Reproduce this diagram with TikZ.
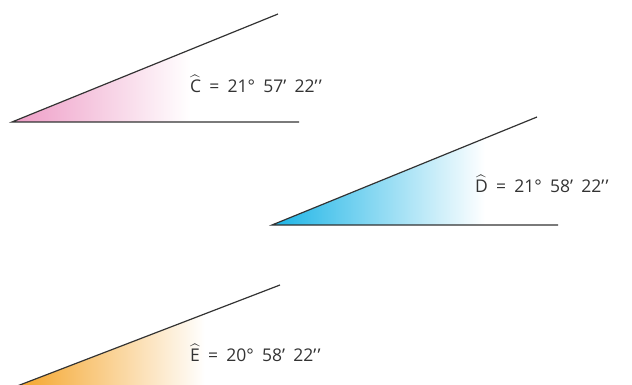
\documentclass[tikz,border=0pt]{standalone}
\usepackage{amsmath}
\usepackage{fontspec}
\setmainfont{Open Sans}
\usepackage{xcolor}
\usepackage{tikz}
\usetikzlibrary{positioning}
\definecolor{angpink}{HTML}{EE9CC6}
\definecolor{angblue}{HTML}{1BB4E6}
\definecolor{angorange}{HTML}{F4A224}
\newcommand{\arcsec}{’\kern1.2pt’}
\newcommand{\angfont}{\fontsize{17.5}{20}\selectfont\spaceskip=0.47em plus 0pt minus 0pt\relax}
\tikzset{
  side/.style={line width=1.2pt,draw=black!80},
  angtext/.style={anchor=west,inner sep=0pt,text=black!80,font=\angfont}
}
\begin{document}
\begin{tikzpicture}[x=1pt,y=-1pt]
  \useasboundingbox (0,0) rectangle (632,385);
  \clip (0,0) rectangle (632,385);
  \coordinate (C)  at (12,122);
  \coordinate (Cb) at (299,122);
  \coordinate (Ct) at (278,14);
  \coordinate (D)  at (272,225);
  \coordinate (Db) at (558,225);
  \coordinate (Dt) at (537,117);
  \coordinate (E)  at (12,388);
  \coordinate (Eb) at (299,388);
  \coordinate (Et) at (280,285);
  \begin{scope}
    \clip (C) -- (Cb) -- (Ct) -- cycle;
    \shade[left color=angpink,middle color=angpink!55,right color=white] (12,0) rectangle (190,130);
  \end{scope}
  \begin{scope}
    \clip (D) -- (Db) -- (Dt) -- cycle;
    \shade[left color=angblue,middle color=angblue!55,right color=white] (272,100) rectangle (485,230);
  \end{scope}
  \begin{scope}
    \clip (E) -- (Eb) -- (Et) -- cycle;
    \shade[left color=angorange,middle color=angorange!55,right color=white] (12,270) rectangle (205,390);
  \end{scope}
  \draw[side] (Cb) -- (C) -- (Ct);
  \draw[side] (Db) -- (D) -- (Dt);
  \draw[side] (Eb) -- (E) -- (Et);
  \node[angtext] (Clab) at (190,84)  {$\widehat{\text{C}}$ = 21° 57’ 22\arcsec};
  \node[angtext] (Dlab) at (475,184) {$\widehat{\text{D}}$ = 21° 58’ 22\arcsec};
  \node[angtext] (Elab) at (190,353) {$\widehat{\text{E}}$ = 20° 58’ 22\arcsec};
\end{tikzpicture}
\end{document}
